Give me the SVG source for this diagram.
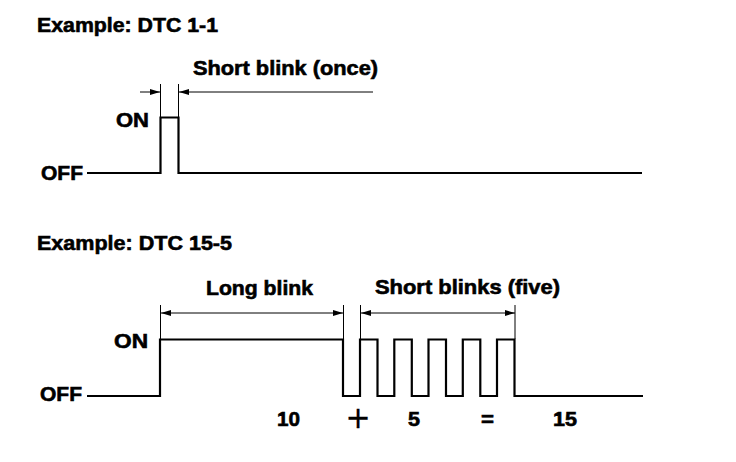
<svg xmlns="http://www.w3.org/2000/svg" width="736" height="462" viewBox="0 0 736 462">
<style>
text{font-family:"Liberation Sans",Arial,sans-serif;font-weight:bold;fill:#000;stroke:#000;stroke-width:0.6}
.t{font-size:21px}
.l{font-size:20px}
.wave{fill:none;stroke:#000;stroke-width:2.2;stroke-linejoin:miter}
.dim{fill:none;stroke:#000;stroke-width:1}
.ext{fill:none;stroke:#000;stroke-width:1}
</style>
<defs>
<marker id="ah" viewBox="0 0 10 6" refX="10" refY="3" markerWidth="10" markerHeight="6" markerUnits="userSpaceOnUse" orient="auto-start-reverse">
<path d="M0,0 L10,3 L0,6 z" fill="#000"/>
</marker>
</defs>
<rect width="736" height="462" fill="#fff"/>

<g id="example1">
<text class="t" x="37" y="32" textLength="181" lengthAdjust="spacingAndGlyphs">Example: DTC 1-1</text>
<text class="l" x="193" y="75" textLength="185" lengthAdjust="spacingAndGlyphs">Short blink (once)</text>
<text class="l" x="116" y="127" textLength="33" lengthAdjust="spacingAndGlyphs">ON</text>
<text class="l" x="41" y="180" textLength="42" lengthAdjust="spacingAndGlyphs">OFF</text>
<path id="wave1" class="wave" d="M87,173 H160.5 V117.5 H178.5 V173 H642"/>
</g>

<g id="example2">
<text class="t" x="37" y="250" textLength="195" lengthAdjust="spacingAndGlyphs">Example: DTC 15-5</text>
<text class="l" x="206" y="295" textLength="107" lengthAdjust="spacingAndGlyphs">Long blink</text>
<text class="l" x="375" y="294" textLength="185" lengthAdjust="spacingAndGlyphs">Short blinks (five)</text>
<text class="l" x="114" y="348" textLength="34" lengthAdjust="spacingAndGlyphs">ON</text>
<text class="l" x="40" y="401" textLength="42" lengthAdjust="spacingAndGlyphs">OFF</text>
<path id="wave2" class="wave" d="M87,396 H160 V339.5 H343 V396 H360 V339.5 H377.5 V396 H394.3 V339.5 H411.8 V396 H428.5 V339.5 H446 V396 H462.8 V339.5 H480.3 V396 H497 V339.5 H514.5 V396 H643"/>
<text class="l" x="277" y="426" textLength="23" lengthAdjust="spacingAndGlyphs">10</text>
<text x="358" y="428" text-anchor="middle" style="font-weight:normal;font-size:30px;stroke-width:0.3;font-family:'DejaVu Sans',sans-serif">+</text>
<text class="l" x="408" y="426" textLength="12" lengthAdjust="spacingAndGlyphs">5</text>
<text class="l" x="481" y="426" textLength="13" lengthAdjust="spacingAndGlyphs">=</text>
<text class="l" x="553" y="426" textLength="24" lengthAdjust="spacingAndGlyphs">15</text>
</g>

<g id="connectors">
<line class="ext" x1="160.5" y1="84" x2="160.5" y2="117"/>
<line class="ext" x1="178.5" y1="84" x2="178.5" y2="117"/>
<line class="dim" x1="140" y1="92" x2="160" y2="92" marker-end="url(#ah)"/>
<line class="dim" x1="373" y1="92" x2="179" y2="92" marker-end="url(#ah)"/>

<line class="ext" x1="160.5" y1="305" x2="160.5" y2="339"/>
<line class="ext" x1="343.5" y1="305" x2="343.5" y2="339"/>
<line class="ext" x1="360.5" y1="305" x2="360.5" y2="339"/>
<line class="ext" x1="515" y1="305" x2="515" y2="339"/>
<line class="dim" x1="161" y1="313" x2="343" y2="313" marker-start="url(#ah)" marker-end="url(#ah)"/>
<line class="dim" x1="361" y1="313" x2="515" y2="313" marker-start="url(#ah)" marker-end="url(#ah)"/>
</g>
</svg>
